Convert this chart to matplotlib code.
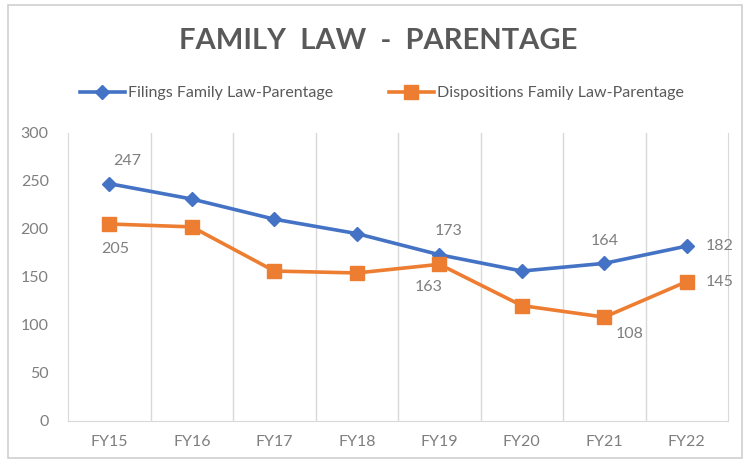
import matplotlib.pyplot as plt
from matplotlib.patches import Rectangle

years = ['FY15', 'FY16', 'FY17', 'FY18', 'FY19', 'FY20', 'FY21', 'FY22']
filings = [247, 231, 210, 195, 173, 156, 164, 182]
dispositions = [205, 202, 156, 154, 163, 120, 108, 145]

# which points carry a data label, and where the label sits (offset in points)
filing_labels = {0: (13, 16), 4: (7, 17), 6: (0, 16), 7: (24, 0)}
disp_labels = {0: (4, -18), 4: (-8, -16), 6: (18, -12), 7: (24, 0)}

blue = '#4472C4'
orange = '#ED7D31'
gray = '#595959'
label_gray = '#7F7F7F'

plt.rcParams['font.family'] = ['Lato', 'DejaVu Sans']

fig = plt.figure(figsize=(7.49, 4.66), dpi=100)
fig.patches.append(Rectangle((0.011, 0.017), 0.979, 0.972, transform=fig.transFigure,
                             fill=False, edgecolor='#D0D0D0', lw=1.2))
ax = fig.add_axes([0.091, 0.097, 0.881, 0.618])

x = list(range(len(years)))
ax.plot(x, filings, color=blue, lw=2.6, marker='D', ms=7, zorder=3,
        label='Filings Family Law-Parentage')
ax.plot(x, dispositions, color=orange, lw=2.6, marker='s', ms=10, zorder=3,
        label='Dispositions Family Law-Parentage')

for i, (dx, dy) in filing_labels.items():
    ax.annotate(str(filings[i]), (x[i], filings[i]), xytext=(dx, dy),
                textcoords='offset points', ha='center', va='center',
                fontsize=11.5, color=label_gray)
for i, (dx, dy) in disp_labels.items():
    ax.annotate(str(dispositions[i]), (x[i], dispositions[i]), xytext=(dx, dy),
                textcoords='offset points', ha='center', va='center',
                fontsize=11.5, color=label_gray)

ax.set_xlim(-0.5, len(years) - 0.5)
ax.set_ylim(0, 300)
ax.set_yticks(range(0, 301, 50))
ax.set_xticks(x)
ax.set_xticklabels(years)
for b in range(1, len(years)):
    ax.axvline(b - 0.5, color='#D9D9D9', lw=1, zorder=1)

ax.spines['top'].set_visible(False)
for s in ['left', 'right', 'bottom']:
    ax.spines[s].set_color('#D9D9D9')
ax.tick_params(length=0, colors=label_gray, labelsize=11.5)
ax.tick_params(axis='y', pad=14)
ax.tick_params(axis='x', pad=10)

fig.text(0.505, 0.913, 'FAMILY  LAW  -  PARENTAGE', ha='center', va='center',
         fontsize=21, fontweight='bold', color=gray)
fig.legend(loc='center', bbox_to_anchor=(0.51, 0.8), ncol=2, frameon=False,
           fontsize=11.5, labelcolor=gray, handlelength=2.8, columnspacing=3.5,
           handletextpad=0.2)

fig.savefig('out.png', dpi=100)
